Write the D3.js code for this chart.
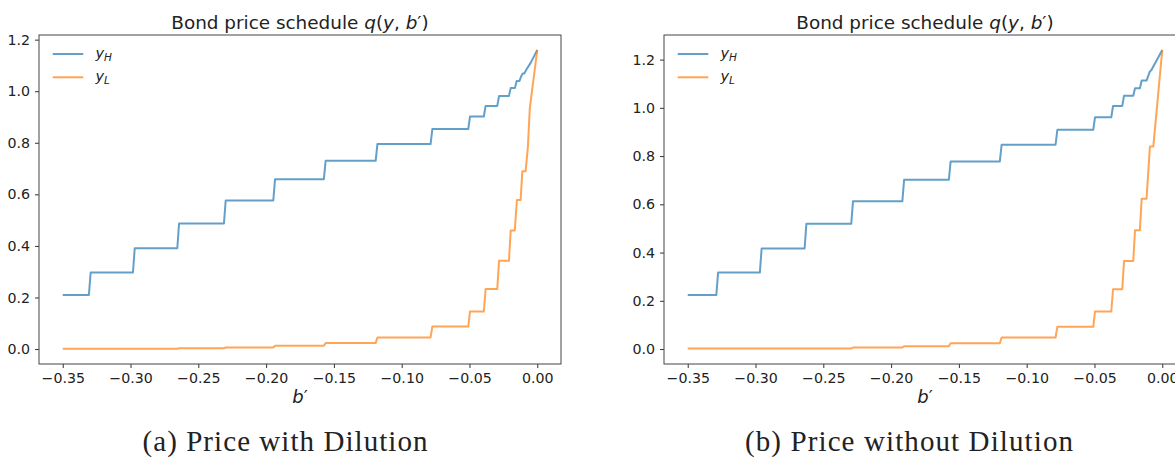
<!DOCTYPE html>
<html>
<head>
<meta charset="utf-8">
<script src="https://cdn.jsdelivr.net/npm/d3@7"></script>
<style>
  html, body { margin: 0; padding: 0; background: #fff; }
  svg { display: block; }
  text { font-family: "DejaVu Sans", sans-serif; fill: #222; }
</style>
</head>
<body>
<svg id="chart" width="1175" height="458"></svg>
<script>
// ---------- data ----------
const titleText = "Bond price schedule ";
const xTicks = [-0.35, -0.30, -0.25, -0.20, -0.15, -0.10, -0.05, 0.00];
const yTicks = [0.0, 0.2, 0.4, 0.6, 0.8, 1.0, 1.2];
const seriesNames = ["H", "L"];
const captions = ["(a) Price with Dilution", "(b) Price without Dilution"];

// (a) with dilution, y_H
const bA_H = [-0.35, -0.3307, -0.3294, -0.2982, -0.2969, -0.2655, -0.2642, -0.2311, -0.2298, -0.1947, -0.1934, -0.1574, -0.1561, -0.1192, -0.1179, -0.0787, -0.0774, -0.0509, -0.0496, -0.0394, -0.0381, -0.0295, -0.0282, -0.0209, -0.0196, -0.0165, -0.0152, -0.0131, -0.0120, -0.0108, -0.0096, -0.0079, -0.0049, 0.0];
const qA_H = [0.210, 0.210, 0.297, 0.297, 0.391, 0.391, 0.487, 0.487, 0.576, 0.576, 0.659, 0.659, 0.730, 0.730, 0.795, 0.795, 0.853, 0.853, 0.902, 0.902, 0.943, 0.943, 0.981, 0.981, 1.012, 1.012, 1.040, 1.040, 1.056, 1.069, 1.069, 1.085, 1.110, 1.160];
// (a) with dilution, y_L
const bA_L = [-0.35, -0.2655, -0.2642, -0.2311, -0.2298, -0.1947, -0.1934, -0.1574, -0.1561, -0.1192, -0.1179, -0.0787, -0.0774, -0.0509, -0.0496, -0.0394, -0.0381, -0.0295, -0.0282, -0.0209, -0.0196, -0.0166, -0.0150, -0.0123, -0.0110, -0.0086, -0.0069, -0.0055, 0.0];
const qA_L = [0.001, 0.001, 0.003, 0.003, 0.006, 0.006, 0.013, 0.013, 0.023, 0.023, 0.045, 0.045, 0.087, 0.087, 0.146, 0.146, 0.233, 0.233, 0.342, 0.342, 0.460, 0.460, 0.578, 0.578, 0.690, 0.690, 0.785, 0.934, 1.160];

// (b) without dilution, y_H
const bB_H = [-0.35, -0.3289, -0.3276, -0.2968, -0.2955, -0.2638, -0.2625, -0.2294, -0.2281, -0.1917, -0.1904, -0.1574, -0.1561, -0.1198, -0.1185, -0.0787, -0.0774, -0.0509, -0.0496, -0.0376, -0.0363, -0.0295, -0.0282, -0.0214, -0.0201, -0.0165, -0.0152, -0.0116, -0.0092, -0.0080, 0.0];
const qB_H = [0.224, 0.224, 0.317, 0.317, 0.417, 0.417, 0.519, 0.519, 0.613, 0.613, 0.702, 0.702, 0.778, 0.778, 0.847, 0.847, 0.909, 0.909, 0.961, 0.961, 1.008, 1.008, 1.050, 1.050, 1.081, 1.081, 1.113, 1.113, 1.150, 1.157, 1.240];
// (b) without dilution, y_L
const bB_L = [-0.35, -0.2294, -0.2281, -0.1917, -0.1904, -0.1574, -0.1561, -0.1198, -0.1185, -0.0787, -0.0774, -0.0509, -0.0496, -0.0376, -0.0363, -0.0295, -0.0282, -0.0214, -0.0201, -0.0165, -0.0152, -0.0116, -0.0091, -0.0066, 0.0];
const qB_L = [0.002, 0.002, 0.006, 0.006, 0.012, 0.012, 0.024, 0.024, 0.048, 0.048, 0.092, 0.092, 0.156, 0.156, 0.248, 0.248, 0.365, 0.365, 0.493, 0.493, 0.623, 0.623, 0.840, 0.840, 1.240];

const colors = ["#1f77b4", "#ff7f0e"];

// ---------- drawing ----------
const svg = d3.select("#chart");

function drawPanel(cfg) {
  const x = d3.scaleLinear().domain([-0.3675, 0.0175]).range([cfg.left, cfg.right]);
  const allQ = cfg.series.flatMap(s => s.q);
  const qMin = d3.min(allQ), qMax = d3.max(allQ);
  const pad = (qMax - Math.min(0, qMin)) * 0.05;
  const y = d3.scaleLinear().domain([Math.min(0, qMin) - pad, qMax + pad]).range([cfg.bottom, cfg.top]);

  const g = svg.append("g");

  // lines
  const line = d3.line().x(d => x(d[0])).y(d => y(d[1]));
  cfg.series.forEach((s, i) => {
    const pts = s.b.map((b, j) => [b, s.q[j]]);
    g.append("path").attr("d", line(pts))
      .attr("fill", "none").attr("stroke", colors[i])
      .attr("stroke-opacity", 0.7).attr("stroke-width", 2)
      .attr("stroke-linejoin", "round");
  });

  // axes
  const xAxis = d3.axisBottom(x).tickValues(xTicks).tickFormat(d3.format(".2f")).tickSizeOuter(0).tickSize(4).tickPadding(5);
  const yAxis = d3.axisLeft(y).tickValues(yTicks).tickFormat(d3.format(".1f")).tickSizeOuter(0).tickSize(4).tickPadding(5);
  const gx = g.append("g").attr("transform", `translate(0,${cfg.bottom})`).call(xAxis);
  const gy = g.append("g").attr("transform", `translate(${cfg.left},0)`).call(yAxis);
  [gx, gy].forEach(a => {
    a.select(".domain").remove();
    a.selectAll(".tick line").attr("stroke", "#333").attr("stroke-width", 1);
    a.selectAll(".tick text").style("font-family", "DejaVu Sans").style("font-size", "14.2px").attr("fill", "#222");
  });

  // frame
  g.append("rect").attr("x", cfg.left).attr("y", cfg.top)
    .attr("width", cfg.right - cfg.left).attr("height", cfg.bottom - cfg.top)
    .attr("fill", "none").attr("stroke", "#444").attr("stroke-width", 1);

  // title
  const cx = (cfg.left + cfg.right) / 2;
  const t = g.append("text").attr("x", cx).attr("y", cfg.top - 6)
    .attr("text-anchor", "middle").style("font-size", "18.4px");
  t.append("tspan").text(titleText);
  t.append("tspan").style("font-style", "italic").text("q");
  t.append("tspan").text("(");
  t.append("tspan").style("font-style", "italic").text("y");
  t.append("tspan").text(", ");
  t.append("tspan").style("font-style", "italic").text("b");
  t.append("tspan").text("′)");

  // x label
  const xl = g.append("text").attr("x", cx).attr("y", cfg.bottom + 39)
    .attr("text-anchor", "middle").style("font-size", "18px");
  xl.append("tspan").style("font-style", "italic").text("b");
  xl.append("tspan").text("′");

  // legend
  seriesNames.forEach((nm, i) => {
    const ly = cfg.top + 19 + i * 23.3;
    g.append("line").attr("x1", cfg.left + 13.7).attr("x2", cfg.left + 44.3)
      .attr("y1", ly).attr("y2", ly)
      .attr("stroke", colors[i]).attr("stroke-opacity", 0.7).attr("stroke-width", 2);
    const lt = g.append("text").attr("x", cfg.left + 56.5).attr("y", ly + 4)
      .style("font-size", "14.5px");
    lt.append("tspan").style("font-style", "italic").text("y");
    lt.append("tspan").style("font-style", "italic").style("font-size", "10.5px").attr("dy", 2.5).text(nm);
  });

  // caption
  svg.append("text").attr("x", cfg.capX).attr("y", 451)
    .attr("text-anchor", "middle")
    .style("font-family", "'Liberation Serif', 'DejaVu Serif', serif")
    .style("font-size", "29px").attr("fill", "#111")
    .attr("textLength", cfg.capW).attr("lengthAdjust", "spacing")
    .text(cfg.caption);
}

drawPanel({ left: 39, right: 561, top: 35, bottom: 364, capX: 285, capW: 285, caption: captions[0],
  series: [{ b: bA_H, q: qA_H }, { b: bA_L, q: qA_L }] });
drawPanel({ left: 664, right: 1186, top: 35, bottom: 364, capX: 909, capW: 328, caption: captions[1],
  series: [{ b: bB_H, q: qB_H }, { b: bB_L, q: qB_L }] });
</script>
</body>
</html>
